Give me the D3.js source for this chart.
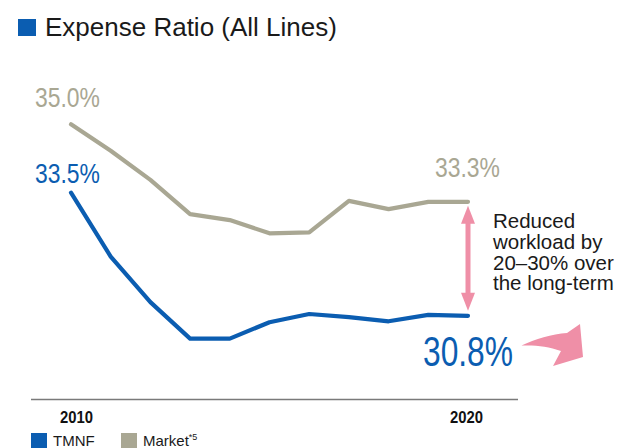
<!DOCTYPE html>
<html>
<head>
<meta charset="utf-8">
<script src="https://cdn.jsdelivr.net/npm/d3@7"></script>
<style>
  html, body { margin: 0; padding: 0; background: #fff; }
  svg { display: block; }
  text { font-family: "Liberation Sans", Arial, Helvetica, sans-serif; }
</style>
</head>
<body>
<svg id="chart" width="623" height="448"></svg>
<script>
// Expense ratio (all lines), fiscal years 2010–2020
const years = [2010, 2011, 2012, 2013, 2014, 2015, 2016, 2017, 2018, 2019, 2020];
const tmnf = [33.5, 32.1, 31.1, 30.3, 30.3, 30.66, 30.84, 30.77, 30.68, 30.82, 30.8];
const market = [35.0, 34.42, 33.78, 33.03, 32.9, 32.61, 32.63, 33.32, 33.14, 33.3, 33.3];
const tickYears = [2010, 2020];
const seriesNames = ["TMNF", "Market"];
const title = "Expense Ratio (All Lines)";
const noteLines = ["Reduced", "workload by", "20–30% over", "the long-term"];

const BLUE = "#0b5db1";
const GREY = "#a9a793";
const PINK = "#ef8fa7";

const svg = d3.select("#chart");

const x = d3.scaleLinear().domain([2010, 2020]).range([71, 468]);
const y = d3.scaleLinear().domain([30, 35]).range([352.3, 124.3]);

// Title
svg.append("rect").attr("x", 18).attr("y", 19).attr("width", 18).attr("height", 17).attr("fill", BLUE);
svg.append("text").attr("x", 45).attr("y", 36)
  .attr("font-size", 26).attr("fill", "#1a1a1a").text(title);

// Baseline
svg.append("line").attr("x1", 31).attr("x2", 518).attr("y1", 399.5).attr("y2", 399.5)
  .attr("stroke", "#7a7a7a").attr("stroke-width", 1.5);

// Year ticks
const axis = d3.axisBottom(x).tickValues(tickYears).tickSize(0).tickFormat(d3.format("d"));
const gAxis = svg.append("g").attr("transform", "translate(0,423)").call(axis);
gAxis.select(".domain").remove();
gAxis.selectAll("text")
  .attr("font-family", "'DejaVu Sans', sans-serif")
  .attr("font-weight", "bold").attr("font-size", 16.5).attr("fill", "#111")
  .attr("y", 0).attr("dy", 0)
  .attr("textLength", 33).attr("lengthAdjust", "spacingAndGlyphs")
  .attr("dx", d => d === 2010 ? 5 : -2);

// Lines
const line = d3.line().x((d, i) => x(years[i])).y(d => y(d));
svg.append("path").datum(market).attr("d", line)
  .attr("fill", "none").attr("stroke", GREY).attr("stroke-width", 4.2)
  .attr("stroke-linejoin", "round").attr("stroke-linecap", "round");
svg.append("path").datum(tmnf).attr("d", line)
  .attr("fill", "none").attr("stroke", BLUE).attr("stroke-width", 4.2)
  .attr("stroke-linejoin", "round").attr("stroke-linecap", "round");

// Value labels
const fmt = d3.format(".1f");
function valueLabel(xv, yv, val, color, size, len) {
  svg.append("text").attr("x", xv).attr("y", yv)
    .attr("font-family", "Roboto, 'Liberation Sans', sans-serif")
    .attr("font-weight", 500)
    .attr("font-size", size).attr("fill", color)
    .attr("textLength", len).attr("lengthAdjust", "spacingAndGlyphs")
    .text(fmt(val) + "%");
}
const last = years.length - 1;
valueLabel(x(years[0]) - 36, y(market[0]) - 17, market[0], GREY, 28, 65);
valueLabel(x(years[0]) - 36, y(tmnf[0]) - 9.5, tmnf[0], BLUE, 28, 65);
valueLabel(x(years[last]) - 33, y(market[last]) - 24.5, market[last], GREY, 28, 65);
valueLabel(x(years[last]) - 45, y(tmnf[last]) + 50, tmnf[last], BLUE, 43, 90);

// Double-headed gap arrow between the two end points
const ax = x(years[last]);
const yTop = y(market[last]) + 4;
const yBot = y(tmnf[last]) - 5;
const headL = 18, headW = 7;
svg.append("line").attr("x1", ax).attr("x2", ax).attr("y1", yTop + headL - 2).attr("y2", yBot - headL + 2)
  .attr("stroke", PINK).attr("stroke-width", 5);
svg.append("path")
  .attr("d", `M${ax},${yTop} L${ax + headW},${yTop + headL} L${ax - headW},${yTop + headL} Z`)
  .attr("fill", PINK);
svg.append("path")
  .attr("d", `M${ax},${yBot} L${ax + headW},${yBot - headL} L${ax - headW},${yBot - headL} Z`)
  .attr("fill", PINK);

// Annotation
const note = svg.append("text").attr("x", 493).attr("y", 228)
  .attr("font-size", 20.5).attr("fill", "#1a1a1a");
noteLines.forEach((t, i) => {
  note.append("tspan").attr("x", 493).attr("dy", i === 0 ? 0 : 20.8).text(t);
});

// Curved downward trend arrow
svg.append("path")
  .attr("d", "M521.5,345.5 C535,339 552,334 567,333 L580,324 L583,357 L553,366 L561,351 C548,346 535,345 521.5,345.5 Z")
  .attr("fill", PINK);

// Legend
const legend = svg.append("g").attr("transform", "translate(31,433)");
const legendColors = [BLUE, GREY];
const legendX = [0, 90];
seriesNames.forEach((name, i) => {
  const g = legend.append("g").attr("transform", `translate(${legendX[i]},0)`);
  g.append("rect").attr("width", 16).attr("height", 15).attr("fill", legendColors[i]);
  const t = g.append("text").attr("x", 22).attr("y", 13).attr("font-size", 15).attr("fill", "#1a1a1a").text(name);
  if (name === "Market") {
    t.append("tspan").attr("font-size", 9).attr("dy", -6).text("*5");
  }
});
</script>
</body>
</html>
